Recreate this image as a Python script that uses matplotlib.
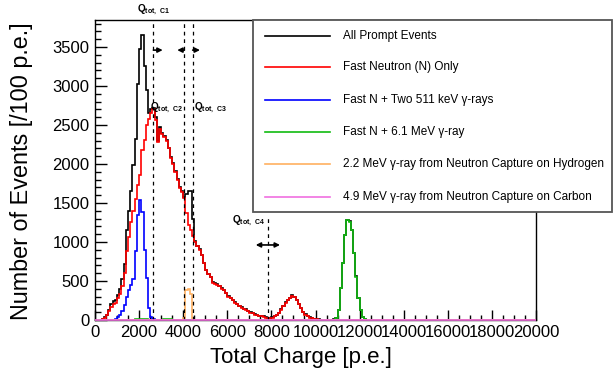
import numpy as np
import matplotlib.pyplot as plt
from matplotlib.patches import Rectangle
from matplotlib.lines import Line2D

plt.rcParams['font.family'] = ['Liberation Sans', 'DejaVu Sans']
plt.rcParams['mathtext.fontset'] = 'custom'
plt.rcParams['mathtext.rm'] = 'Liberation Sans'
plt.rcParams['mathtext.bf'] = 'Liberation Sans:bold'

# histogram binning: 100 p.e. per bin, 0 - 20000 p.e.
edges = np.arange(0, 20001, 100)
nbins = len(edges) - 1

# bin contents, each list starts at the given charge
all_start = 300
all_prompt = [15, 40, 70, 130, 200, 240, 260, 320, 400, 530,
              720, 1150, 1400, 1650, 1990, 2320, 3030, 3480, 3660, 3250,
              2950, 2650, 2700, 2720, 2600, 2300, 2480, 2400, 2360, 2310,
              2210, 2090, 2010, 1910, 1810, 1700, 1650, 1580, 1610, 1660,
              1660, 1300, 1010, 955, 905, 835, 735, 645, 595, 555,
              485, 470, 460, 435, 405, 385, 345, 305, 285, 255,
              225, 205, 180, 165, 145, 135, 115, 100, 90, 75,
              65, 55, 50, 45, 35, 30, 25, 35, 50, 70,
              90, 135, 180, 225, 260, 285, 315, 295, 255, 205,
              155, 105, 75, 50, 35, 25, 15, 10, 8, 5,
              5, 3, 3, 3, 5, 8, 30, 130, 410, 730,
              1095, 1285, 1265, 1158, 858, 558, 280, 130, 44, 11]

neutron_start = 300
neutron_only = [10, 30, 60, 120, 170, 200, 220, 280, 330, 430,
                600, 880, 1060, 1250, 1400, 1550, 1730, 1860, 2180, 2310,
                2500, 2580, 2650, 2700, 2560, 2280, 2450, 2380, 2350, 2300,
                2200, 2080, 2000, 1900, 1800, 1690, 1640, 1560, 1370, 1220,
                1150, 1080, 1000, 950, 900, 830, 730, 640, 590, 550,
                480, 465, 455, 430, 400, 380, 340, 300, 280, 250,
                220, 200, 175, 160, 140, 130, 110, 95, 85, 70,
                60, 50, 45, 40, 30, 25, 20, 30, 45, 65,
                85, 130, 175, 220, 255, 280, 310, 290, 250, 200,
                150, 100, 70, 45, 30, 20, 12, 8, 5, 3, 2]

two511_start = 800
two511 = [5, 15, 40, 70, 120, 190, 300, 380, 450, 520,
          880, 1350, 1540, 1380, 900, 540, 150, 40, 10]

g61_start = 1800
g61 = [10, 12, 15, 12, 10, 8, 0, 0, 0, 0,
       0, 0, 0, 8, 10, 12, 10] + [0] * 73 + \
      [5, 26, 128, 406, 726, 1090, 1282, 1260, 1154, 855,
       555, 277, 128, 42, 10]

h22_start = 4000
h22 = [30, 380, 400, 330, 5]

c49 = [0] * nbins

labels = ['All Prompt Events',
          'Fast Neutron (N) Only',
          'Fast N + Two 511 keV \u03b3-rays',
          'Fast N + 6.1 MeV \u03b3-ray',
          '2.2 MeV \u03b3-ray from Neutron Capture on Hydrogen',
          '4.9 MeV \u03b3-ray from Neutron Capture on Carbon']
colors = ['black', '#ff0000', '#0000ff', '#11bb11', '#ffb060', '#f070e0']

# selection cuts on total charge
q_cuts = [2650, 4050, 4430, 7830]


def full(start, vals):
    out = np.zeros(nbins)
    i = start // 100
    out[i:i + len(vals)] = vals
    return out


series = [full(all_start, all_prompt), full(neutron_start, neutron_only),
          full(two511_start, two511), full(g61_start, g61),
          full(h22_start, h22), np.array(c49, float)]

fig = plt.figure(figsize=(6.16, 3.71), dpi=100)
ax = fig.add_axes([95/616, 51/371, 441/616, 300/371])

for k, (vals, col) in enumerate(zip(series, colors)):
    last = k == len(series) - 1
    ax.stairs(vals, edges, color=col, lw=1.2, baseline=0,
              zorder=3 if last else 2, clip_on=not last)

ymax = 3846
ax.set_xlim(0, 20000)
ax.set_ylim(0, ymax)
ax.set_xticks(np.arange(0, 20001, 2000))
ax.set_xticks(np.arange(0, 20001, 500), minor=True)
ax.set_yticks(np.arange(0, 3501, 500))
ax.set_yticks(np.arange(0, 3801, 100), minor=True)
ax.tick_params(axis='both', which='both', direction='in', labelsize=12,
               top=False, right=False, width=1)
ax.tick_params(axis='x', which='major', length=7.2, pad=3.5)
ax.tick_params(axis='x', which='minor', length=3.6)
ax.tick_params(axis='y', which='major', length=8.6, pad=4)
ax.tick_params(axis='y', which='minor', length=4.3)
for s in ax.spines.values():
    s.set_linewidth(1)

# cut lines, arrows and labels
dash = (0, (3, 3))
for q in q_cuts[:3]:
    ax.axvline(q, color='k', lw=0.9, ls=dash)
ax.plot([q_cuts[3], q_cuts[3]], [0, 1350], color='k', lw=0.9, ls=dash)

arr = dict(arrowstyle='-|>', color='k', lw=1.2, mutation_scale=7,
           shrinkA=0, shrinkB=0)
ax.annotate('', xy=(q_cuts[0] + 420, 3460), xytext=(q_cuts[0], 3460), arrowprops=arr)
ax.annotate('', xy=(q_cuts[1] - 320, 3460), xytext=(q_cuts[1], 3460), arrowprops=arr)
ax.annotate('', xy=(q_cuts[2] + 330, 3460), xytext=(q_cuts[2], 3460), arrowprops=arr)
arr2 = dict(arr, arrowstyle='<|-|>')
ax.annotate('', xy=(q_cuts[3] + 560, 962), xytext=(q_cuts[3] - 540, 962), arrowprops=arr2)

qfs = 7.2
ax.text(q_cuts[0], 3974, r'$\mathbf{Q}_{\mathbf{tot,\ C1}}$', fontsize=qfs,
        ha='center', va='center', clip_on=False)
ax.text(q_cuts[1] - 60, 2718, r'$\mathbf{Q}_{\mathbf{tot,\ C2}}$', fontsize=qfs,
        ha='right', va='center')
ax.text(q_cuts[2] + 50, 2718, r'$\mathbf{Q}_{\mathbf{tot,\ C3}}$', fontsize=qfs,
        ha='left', va='center')
ax.text(q_cuts[3] - 100, 1270, r'$\mathbf{Q}_{\mathbf{tot,\ C4}}$', fontsize=qfs,
        ha='right', va='center')

fig.text(301/616, 1 - 357/371, 'Total Charge [p.e.]', fontsize=16,
         ha='center', va='center')
fig.text(22/616, 1 - 171/371, 'Number of Events [/100 p.e.]', fontsize=16.8,
         rotation=90, ha='center', va='center')

# legend box, ROOT style
W, H = 616, 371
box = Rectangle((253/W, 1 - 212/H), 359/W, 192/H, transform=fig.transFigure,
                facecolor='white', edgecolor='#555555', lw=1.3, zorder=5)
fig.add_artist(box)
rows = [36, 67, 100, 132, 164, 197]
for lab, col, yy in zip(labels, colors, rows):
    fig.add_artist(Line2D([265/W, 330/W], [1 - yy/H, 1 - yy/H], color=col, lw=1.2,
                          transform=fig.transFigure, zorder=6))
    fig.text(343/W, 1 - yy/H, lab, fontsize=8.5, ha='left', va='center', zorder=6)

fig.savefig('out.png', dpi=100)
